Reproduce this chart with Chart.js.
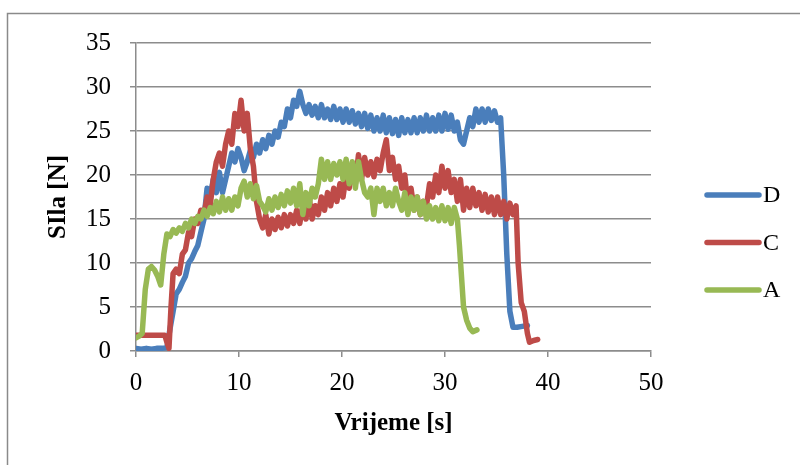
<!DOCTYPE html>
<html>
<head>
<meta charset="utf-8">
<script src="https://cdn.jsdelivr.net/npm/chart.js@4/dist/chart.umd.min.js"></script>
<style>
  html, body { margin: 0; padding: 0; background: #fff; }
  #wrap { width: 800px; height: 465px; }
</style>
</head>
<body>
<div id="wrap"><canvas id="chart" width="800" height="465"></canvas></div>
<script>
// Series names as in the legend
var seriesNames = ['D', 'C', 'A'];
var seriesColors = ['#4A7EBB', '#BE4B48', '#98B954'];

// Axis ticks
var xTicks = [0, 10, 20, 30, 40, 50];
var yTicks = [0, 5, 10, 15, 20, 25, 30, 35];

// D: time [s] and force [N]
var timeD = [0, 0.5, 1, 1.5, 2, 2.5,
  3, 3.3, 3.6, 3.9, 4.2, 4.5, 4.8, 5.1, 5.4, 5.7,
  6, 6.3, 6.6, 6.9, 7.2, 7.5, 7.8, 8.1, 8.4, 8.7,
  9, 9.3, 9.6, 9.9, 10.2, 10.5, 10.8, 11.1, 11.4, 11.7,
  12, 12.3, 12.6, 12.9, 13.2, 13.5, 13.8, 14.1, 14.4, 14.7,
  15, 15.3, 15.6, 15.9, 16.2, 16.5, 16.8, 17.1, 17.4, 17.7,
  18, 18.3, 18.6, 18.9, 19.2, 19.5, 19.8, 20.1, 20.4, 20.7,
  21, 21.3, 21.6, 21.9, 22.2, 22.5, 22.8, 23.1, 23.4, 23.7,
  24, 24.3, 24.6, 24.9, 25.2, 25.5, 25.8, 26.1, 26.4, 26.7,
  27, 27.3, 27.6, 27.9, 28.2, 28.5, 28.8, 29.1, 29.4, 29.7,
  30, 30.3, 30.6, 30.9, 31.2, 31.5, 31.8, 32.1, 32.4, 32.7,
  33, 33.3, 33.6, 33.9, 34.2, 34.5, 34.8, 35.1, 35.4,
  35.7, 36, 36.3, 36.6, 37, 37.5, 38];
var forceD = [0.3, 0.2, 0.3, 0.2, 0.3, 0.3,
  0.4, 2.5, 4.5, 6.5, 7, 7.8, 8.5, 10, 10.5, 11.3,
  12, 13.5, 15, 18.5, 17.5, 19.5, 18, 20.3, 18, 19.5,
  21, 22.5, 21.5, 23, 22, 20.5, 21.5, 22.8, 22, 23.5,
  22.5, 24, 23, 24.5, 23.5, 25, 24.3, 26, 25.5, 27.5,
  26.5, 28.5, 27.8, 29.5, 28, 27, 28, 26.8, 27.8, 26.5,
  28, 26.5, 27.5, 26.3, 27.8, 26.3, 27.5, 26, 27.5, 26,
  27.3, 25.8, 27, 25.5, 27, 25.3, 26.8, 25, 26.5, 25,
  26.8, 24.8, 26.5, 24.7, 26.3, 24.5, 26.5, 24.8, 26.3, 24.8,
  26.5, 24.8, 26.5, 25, 26.8, 25, 26.5, 25, 26.8, 25,
  27, 25.2, 26.8, 25, 26, 24, 23.5, 25, 26.5, 25.5,
  27.5, 26, 27.5, 26, 27.5, 26.2, 27.3, 26, 26.5,
  20, 11, 4.5, 2.7, 2.7, 2.8, 2.9];

// C
var timeC = [0, 0.5, 1, 1.5, 2, 2.5, 2.8, 3, 3.2, 3.4,
  3.6, 3.9, 4.2, 4.5, 4.8, 5.1, 5.4, 5.7, 6, 6.3,
  6.6, 6.9, 7.2, 7.5, 7.8, 8.1, 8.4, 8.7, 9, 9.3,
  9.6, 9.9, 10.2, 10.5, 10.8, 11.1, 11.4, 11.7, 12, 12.3,
  12.6, 12.9, 13.2, 13.5, 13.8, 14.1, 14.4, 14.7, 15, 15.3,
  15.6, 15.9, 16.2, 16.5, 16.8, 17.1, 17.4, 17.7, 18, 18.3,
  18.6, 18.9, 19.2, 19.5, 19.8, 20.1, 20.4, 20.7, 21, 21.3,
  21.6, 21.9, 22.2, 22.5, 22.8, 23.1, 23.4, 23.7, 24, 24.3,
  24.6, 24.9, 25.2, 25.5, 25.8, 26.1, 26.4, 26.7, 27, 27.3,
  27.6, 27.9, 28.2, 28.5, 28.8, 29.1, 29.4, 29.7, 30, 30.3,
  30.6, 30.9, 31.2, 31.5, 31.8, 32.1, 32.4, 32.7, 33, 33.3,
  33.6, 33.9, 34.2, 34.5, 34.8, 35.1, 35.4, 35.7, 36, 36.3,
  36.6, 36.9, 37.1, 37.4, 37.7, 38, 38.2, 38.6, 39];
var forceC = [1.8, 1.8, 1.8, 1.8, 1.8, 1.8, 1.8, 1.0, 0.3, 5,
  8.8, 9.3, 8.8, 11, 11.5, 13.5, 13, 15, 14.5, 16,
  15.5, 17.5, 16.5, 19.5, 21.5, 22.5, 21, 23.5, 25, 23.5,
  27, 25.5, 28.5, 25, 27, 23, 21, 17, 15, 14,
  15.5, 13.3, 15, 13.8, 15.2, 14, 15.5, 14.2, 15.5, 14.5,
  16, 14.5, 16.5, 15, 17.5, 15, 16.5, 15.5, 17.5, 16,
  18, 16.5, 18.5, 17, 19, 17.5, 20, 18.5, 21, 19,
  22.3, 19.5, 22, 20, 21.5, 19.8, 21.8, 20.5, 22.5, 24,
  20.5, 22, 19.5, 21, 18.5, 20, 16.5, 18.5, 16, 17.5,
  15.5, 17, 16.5, 19, 17.5, 20, 18, 21, 18.5, 20.5,
  18, 19.5, 17, 19.5, 16, 18.5, 16.3, 18.5, 16.5, 18,
  16, 17.8, 15.8, 17.5, 15.5, 17.5, 15.5, 17, 15, 16.8,
  15.5, 16.5, 10, 5.5, 4.5, 2, 1, 1.2, 1.3];

// A
var timeA = [0, 0.3, 0.6, 0.9, 1.2, 1.5, 1.8, 2.1, 2.4, 2.7,
  3, 3.3, 3.6, 3.9, 4.2, 4.5, 4.8, 5.1, 5.4, 5.7,
  6, 6.3, 6.6, 6.9, 7.2, 7.5, 7.8, 8.1, 8.4, 8.7,
  9, 9.3, 9.6, 9.9, 10.2, 10.5, 10.8, 11.1, 11.4, 11.7,
  12, 12.3, 12.6, 12.9, 13.2, 13.5, 13.8, 14.1, 14.4, 14.7,
  15, 15.3, 15.6, 15.9, 16.2, 16.5, 16.8, 17.1, 17.4, 17.7,
  18, 18.3, 18.6, 18.9, 19.2, 19.5, 19.8, 20.1, 20.4, 20.7,
  21, 21.3, 21.6, 21.9, 22.2, 22.5, 22.8, 23.1, 23.4, 23.7,
  24, 24.3, 24.6, 24.9, 25.2, 25.5, 25.8, 26.1, 26.4, 26.7,
  27, 27.3, 27.6, 27.9, 28.2, 28.5, 28.8, 29.1, 29.4, 29.7,
  30, 30.3, 30.6, 30.9, 31.2,
  31.4, 31.6, 31.8, 32.1, 32.4, 32.7, 33.1];
var forceA = [1.5, 1.7, 2.0, 7, 9.3, 9.6, 9.2, 8.5, 7.5, 11,
  13.3, 13.0, 13.8, 13.4, 14, 13.6, 14.5, 14.0, 15, 14.5,
  15.3, 15, 16, 15.3, 16.3, 15.6, 17, 15.8, 17.5, 16,
  17.3, 16, 17.5, 16.5, 18.5, 19.3, 17.5, 19, 17.3, 18.8,
  17, 16.5, 15.8, 17.3, 16, 17.5, 16.3, 17.8, 16.5, 18.2,
  16.8, 18.5, 16.5, 19, 15.5, 18, 16.5, 18.5, 17.5, 19,
  21.8, 19.5, 21.5, 19.5, 21.3, 20, 21.5, 19.5, 21.8, 19,
  21.5, 18.5, 21.5, 19.5, 18, 17.5, 18.5, 15.5, 18.5, 17,
  18.5, 16.5, 18, 16.5, 18.5, 17, 16, 18, 15.5, 17.5,
  16, 17.5, 15.5, 17, 15, 16.5, 15, 16.3, 14.8, 16.5,
  14.8, 16.3, 14.5, 16.3, 15,
  12, 8.5, 5, 3.5, 2.6, 2.2, 2.4];

var FONT = "'Liberation Serif', 'DejaVu Serif', serif";
var GRID = '#8c8c8c';

function points(ts, vs) {
  return ts.map(function (t, i) { return { x: t, y: vs[i] }; });
}

var seriesData = [points(timeD, forceD), points(timeC, forceC), points(timeA, forceA)];

// Frame around the whole chart, like the Excel chart border
var framePlugin = {
  id: 'frame',
  beforeDraw: function (chart) {
    var ctx = chart.ctx;
    ctx.save();
    ctx.fillStyle = '#fff';
    ctx.fillRect(0, 0, chart.width, chart.height);
    ctx.strokeStyle = '#8a8a8a';
    ctx.lineWidth = 1.5;
    ctx.strokeRect(7.5, 13.5, 820, 500);
    ctx.restore();
  }
};

// Legend on the right: short thick line and the series name
var legendPlugin = {
  id: 'sideLegend',
  afterDraw: function (chart) {
    var ctx = chart.ctx;
    ctx.save();
    chart.data.datasets.forEach(function (ds, i) {
      var y = 195 + i * 47.5;
      ctx.strokeStyle = ds.borderColor;
      ctx.lineWidth = 5.5;
      ctx.lineCap = 'round';
      ctx.beginPath();
      ctx.moveTo(707, y);
      ctx.lineTo(759, y);
      ctx.stroke();
      ctx.fillStyle = '#000';
      ctx.font = '24px ' + FONT;
      ctx.textAlign = 'left';
      ctx.textBaseline = 'middle';
      ctx.fillText(ds.label, 763, y + 1);
    });
    ctx.restore();
  }
};

new Chart(document.getElementById('chart'), {
  type: 'line',
  data: {
    datasets: seriesNames.map(function (name, i) {
      return {
        label: name,
        data: seriesData[i],
        borderColor: seriesColors[i],
        backgroundColor: seriesColors[i],
        borderWidth: 5.5,
        borderJoinStyle: 'round',
        borderCapStyle: 'round',
        pointRadius: 0,
        tension: 0,
        order: 2 - i
      };
    })
  },
  options: {
    responsive: false,
    animation: false,
    layout: { padding: { left: 0, top: 43, right: 149, bottom: 0 } },
    plugins: {
      legend: { display: false },
      tooltip: { enabled: false }
    },
    scales: {
      x: {
        type: 'linear',
        min: 0,
        max: 50,
        afterFit: function (scale) { scale.height = 114; },
        afterBuildTicks: function (scale) {
          scale.ticks = xTicks.map(function (v) { return { value: v }; });
        },
        ticks: { color: '#000', font: { family: FONT, size: 25 }, padding: 11, maxRotation: 0 },
        grid: { drawOnChartArea: false, drawTicks: true, tickLength: 6, color: GRID, lineWidth: 1.5 },
        border: { display: true, color: GRID, width: 1.5 },
        title: {
          display: true,
          text: 'Vrijeme [s]',
          color: '#000',
          font: { family: FONT, size: 25, weight: 'bold' },
          padding: { top: 0, bottom: 26 }
        }
      },
      y: {
        min: 0,
        max: 35,
        afterFit: function (scale) { scale.width = 136; },
        afterBuildTicks: function (scale) {
          scale.ticks = yTicks.map(function (v) { return { value: v }; });
        },
        ticks: { color: '#000', font: { family: FONT, size: 25 }, padding: 19 },
        grid: { drawOnChartArea: true, drawTicks: true, tickLength: 6, color: GRID, lineWidth: 1.5 },
        border: { display: true, color: GRID, width: 1.5 },
        title: {
          display: true,
          text: 'SIla [N]',
          color: '#000',
          font: { family: FONT, size: 25, weight: 'bold' },
          padding: { top: 44, bottom: 0 }
        }
      }
    }
  },
  plugins: [framePlugin, legendPlugin]
});
</script>
</body>
</html>
